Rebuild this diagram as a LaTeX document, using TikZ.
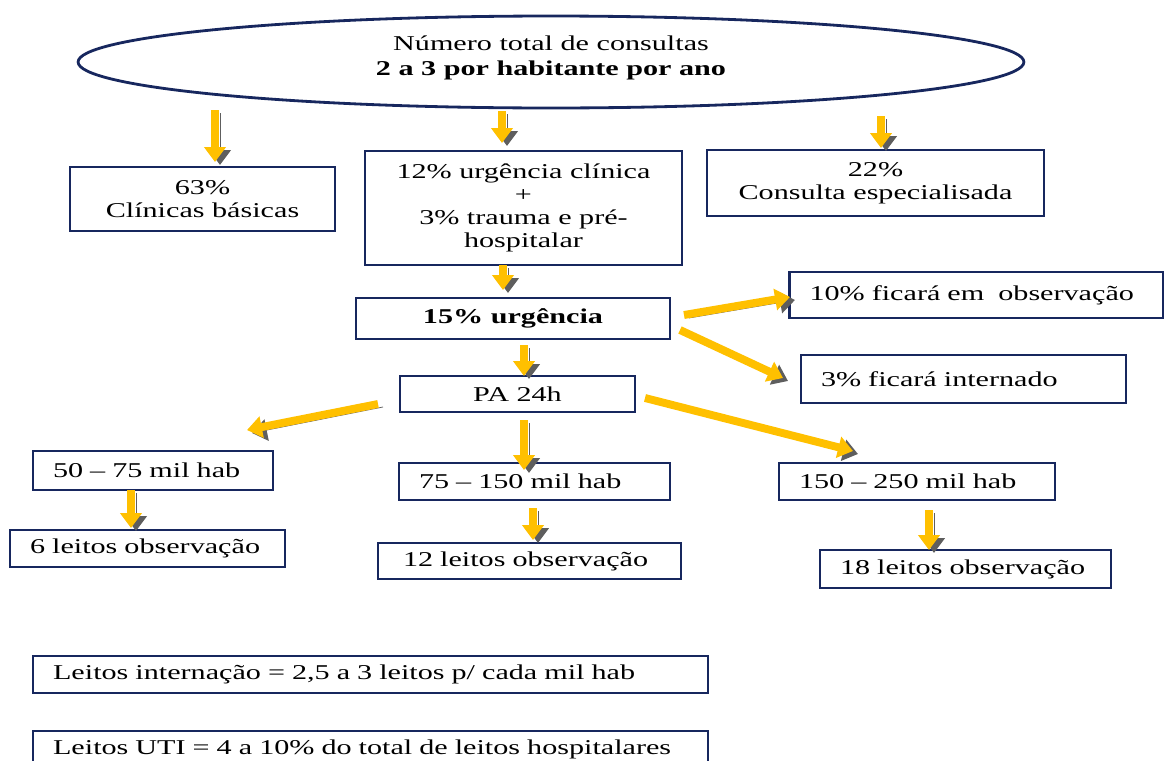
\documentclass[tikz,border=0pt]{standalone}
\usepackage{fontspec}
\setmainfont{Liberation Serif}[FakeStretch=1.43]
\usetikzlibrary{arrows.meta,shapes.geometric}
\definecolor{Navy}{HTML}{17275E}
\definecolor{Gold}{HTML}{FFC000}
\definecolor{Shade}{HTML}{5E5E5E}
\begin{document}
\begin{tikzpicture}[x=0.02cm,y=-0.02cm,
  box/.style={draw=Navy,line width=1.2pt,fill=white,inner sep=0pt,align=center,font=\fontsize{12}{13}\selectfont},
  lbox/.style={box,inner xsep=0.4cm,align=left},
  flow/.style={draw=Gold,line width=4.5pt,-{Triangle[width=12pt,length=8.5pt]},
    preaction={draw=Shade,transform canvas={shift={(5,3)}}}}]
\useasboundingbox (0,0) rectangle (1164,761);
\node[ellipse,draw=Navy,line width=1.6pt,minimum width=18.92cm,minimum height=1.84cm,inner sep=0pt,text depth=0.26cm,align=center,font=\fontsize{12}{14.2}\selectfont] (total) at (551,62) {Número total de consultas\\\textbf{2 a 3 por habitante por ano}};
\node[box,minimum width=5.3cm,minimum height=1.28cm] (basic) at (202.5,199) {63\%\\Clínicas básicas};
\node[box,minimum width=6.34cm,minimum height=2.28cm] (urgmix) at (523.5,208) {12\% urgência clínica\\+\\3\% trauma e pré-\\hospitalar};
\node[box,minimum width=6.74cm,minimum height=1.32cm] (spec) at (875.5,183) {22\%\\Consulta especialisada};
\node[box,line width=1.6pt,minimum width=6.28cm,minimum height=0.82cm] (urg) at (513,318.5) {\textbf{15\% urgência}};
\node[lbox,text width=6.68cm,minimum height=0.92cm] (obs) at (976.5,295) {10\% ficará em~ observação};
\node[lbox,text width=5.7cm,minimum height=0.96cm] (hosp) at (963.5,379) {3\% ficará internado};
\node[box,minimum width=4.7cm,minimum height=0.72cm] (pa) at (517.5,394) {PA 24h};
\node[lbox,text width=4.0cm,minimum height=0.78cm] (popA) at (153,470.5) {50 – 75 mil hab};
\node[lbox,text width=4.62cm,minimum height=0.74cm] (popB) at (534.5,481.5) {75 – 150 mil hab};
\node[lbox,text width=4.72cm,minimum height=0.74cm] (popC) at (917,481.5) {150 – 250 mil hab};
\node[lbox,text width=4.7cm,minimum height=0.74cm] (bedA) at (147.5,548.5) {6 leitos observação};
\node[lbox,inner xsep=0.5cm,text width=5.06cm,minimum height=0.72cm] (bedB) at (529.5,561) {12 leitos observação};
\node[lbox,text width=5.02cm,minimum height=0.76cm] (bedC) at (965.5,569) {18 leitos observação};
\node[lbox,text width=12.7cm,minimum height=0.74cm] (ward) at (370.5,674.5) {Leitos internação = 2,5 a 3 leitos p/ cada mil hab};
\node[lbox,text width=12.7cm,minimum height=0.74cm] (icu) at (370.5,749.5) {Leitos UTI = 4 a 10\% do total de leitos hospitalares};
\coordinate (basicFrom) at (215,110);
\coordinate (basicTo) at (215,162);
\coordinate (mixFrom) at (502,111);
\coordinate (mixTo) at (502,143);
\coordinate (specFrom) at (881,116);
\coordinate (specTo) at (881,148);
\coordinate (urgFrom) at (503,265);
\coordinate (urgTo) at (503,290);
\coordinate (obsFrom) at (684,315);
\coordinate (obsTo) at (790,297);
\coordinate (hospFrom) at (680,330);
\coordinate (hospTo) at (783,378);
\coordinate (paFrom) at (524,345);
\coordinate (paTo) at (524,376);
\coordinate (popAFrom) at (378,404);
\coordinate (popATo) at (247,430);
\coordinate (popCFrom) at (645,398);
\coordinate (popCTo) at (853,451);
\coordinate (popBFrom) at (524,420);
\coordinate (popBTo) at (524,470);
\coordinate (bedAFrom) at (131,490);
\coordinate (bedATo) at (131,528);
\coordinate (bedBFrom) at (533,508);
\coordinate (bedBTo) at (533,540);
\coordinate (bedCFrom) at (929,510);
\coordinate (bedCTo) at (929,550);
\draw[flow] (basicFrom) -- (basicTo);
\draw[flow] (mixFrom) -- (mixTo);
\draw[flow] (specFrom) -- (specTo);
\draw[flow] (urgFrom) -- (urgTo);
\draw[flow] (obsFrom) -- (obsTo);
\draw[flow] (hospFrom) -- (hospTo);
\draw[flow] (paFrom) -- (paTo);
\draw[flow] (popAFrom) -- (popATo);
\draw[flow] (popCFrom) -- (popCTo);
\draw[flow] (popBFrom) -- (popBTo);
\draw[flow] (bedAFrom) -- (bedATo);
\draw[flow] (bedBFrom) -- (bedBTo);
\draw[flow] (bedCFrom) -- (bedCTo);
\end{tikzpicture}
\end{document}
